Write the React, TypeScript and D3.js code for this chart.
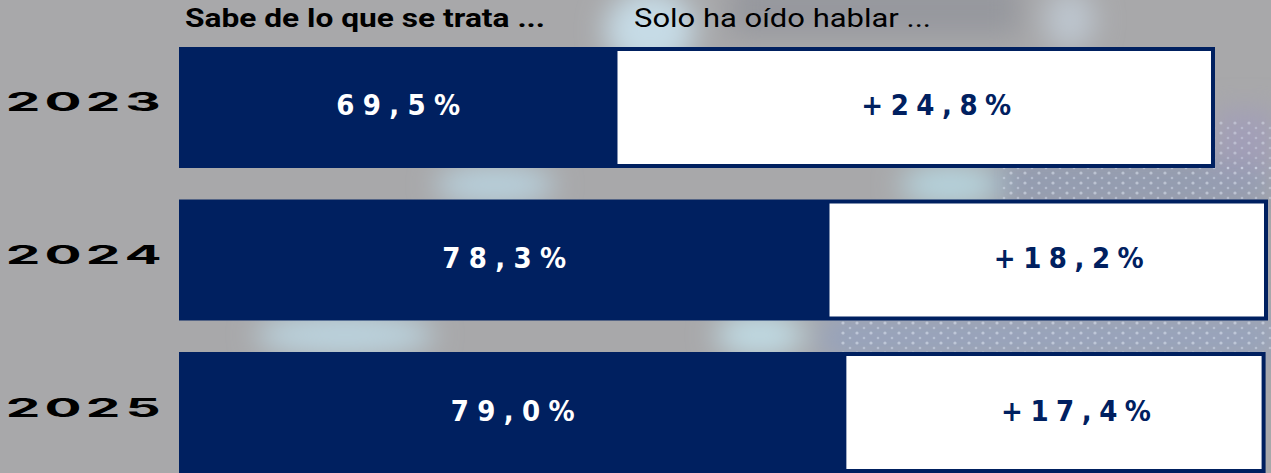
import React from "react";
import * as d3 from "d3";

const years = ["2023", "2024", "2025"];
const knows = [69.5, 78.3, 79.0];
const heard = [24.8, 18.2, 17.4];
const knowsLabels = ["69,5%", "78,3%", "79,0%"];
const heardLabels = ["+24,8%", "+18,2%", "+17,4%"];
const headers = ["Sabe de lo que se trata ...", "Solo ha oído hablar ..."];

const W = 1271;
const H = 473;
const NAVY = "#002060";
const AXIS_MIN = 51.3;
const AXIS_MAX = 96.5;

export default function App() {
  const x = d3.scaleLinear().domain([AXIS_MIN, AXIS_MAX]).range([179, 1268]);
  const y = d3.scaleBand<string>().domain(years).range([47, 473]).paddingInner(0.2066);
  const bw = y.bandwidth();
  const border = 4;
  const valueFont = "'DejaVu Sans Condensed', 'DejaVu Sans', sans-serif";
  const yearScale = 2.2;

  return (
    <svg
      width={W}
      height={H}
      style={{ position: "absolute", left: 0, top: 0, display: "block" }}
    >
      <defs>
        <filter id="blur" x="-50%" y="-50%" width="200%" height="200%">
          <feGaussianBlur stdDeviation="14" />
        </filter>
        <filter id="blur2" x="-50%" y="-50%" width="200%" height="200%">
          <feGaussianBlur stdDeviation="6" />
        </filter>
        <pattern id="dots" width="14" height="10" patternUnits="userSpaceOnUse">
          <circle cx="3" cy="3" r="1.6" fill="#e6ecf7" opacity="0.8" />
          <circle cx="10" cy="8" r="1.3" fill="#dfe7f5" opacity="0.7" />
        </pattern>
      </defs>
      {/* background photo approximation */}
      <rect x={0} y={0} width={W} height={H} fill="#a8a8aa" />
      <g filter="url(#blur)">
        <rect x={730} y={-20} width={290} height={55} fill="#96989e" />
        <ellipse cx={650} cy={30} rx={45} ry={40} fill="#c6dbe6" />
        <ellipse cx={1070} cy={20} rx={25} ry={30} fill="#bdc6cf" />
        <ellipse cx={495} cy={185} rx={60} ry={20} fill="#b8d0dc" />
        <ellipse cx={950} cy={185} rx={50} ry={20} fill="#b6d4de" />
        <rect x={1000} y={160} width={271} height={45} fill="#8f98ad" />
        <rect x={1215} y={110} width={60} height={60} fill="#a29fb8" />
        <ellipse cx={345} cy={335} rx={90} ry={22} fill="#bbd3de" />
        <ellipse cx={760} cy={335} rx={45} ry={22} fill="#c0dae3" />
        <rect x={820} y={315} width={460} height={45} fill="#97a3bb" />
      </g>
      <rect x={1000} y={165} width={271} height={35} fill="url(#dots)" opacity="0.55" filter="url(#blur2)" />
      <rect x={1000} y={165} width={271} height={35} fill="url(#dots)" opacity="0.6" />
      <rect x={1215} y={120} width={56} height={50} fill="url(#dots)" opacity="0.5" />
      <rect x={840} y={320} width={431} height={32} fill="url(#dots)" opacity="0.6" />

      {/* headers */}
      <text
        x={185}
        y={27}
        fontFamily="Roboto, 'Liberation Sans', sans-serif"
        fontWeight={700}
        fontSize={25}
        fill="#000"
        textLength={360}
        lengthAdjust="spacingAndGlyphs"
      >
        {headers[0]}
      </text>
      <text
        x={634}
        y={27}
        fontFamily="Roboto, 'Liberation Sans', sans-serif"
        fontWeight={400}
        fontSize={25}
        fill="#000"
        textLength={297}
        lengthAdjust="spacingAndGlyphs"
      >
        {headers[1]}
      </text>

      {years.map((yr, i) => {
        const top = y(yr) as number;
        const x0 = x(AXIS_MIN);
        const x1 = x(knows[i]);
        const x2 = x(knows[i] + heard[i]);
        const cy = top + bw / 2;
        return (
          <g key={yr}>
            {yr.split("").map((ch, k) => (
              <text
                key={k}
                transform={`translate(${8 + 15 + k * 40}, ${cy + 4}) scale(${yearScale}, 1)`}
                textAnchor="middle"
                fontFamily="Inter, 'DejaVu Sans', sans-serif"
                fontWeight={700}
                fontSize={25}
                fill="#000"
              >
                {ch}
              </text>
            ))}
            <rect x={x0} y={top} width={x2 - x0} height={bw} fill={NAVY} />
            <rect
              x={x1}
              y={top + border}
              width={x2 - x1 - border}
              height={bw - 2 * border}
              fill="#ffffff"
            />
            <text
              x={(x0 + x1) / 2}
              y={cy + 8}
              textAnchor="middle"
              fontFamily={valueFont}
              fontWeight={700}
              fontSize={29}
              fill="#ffffff"
              textLength={124}
            >
              {knowsLabels[i]}
            </text>
            <text
              x={(x1 + x2) / 2 + 20}
              y={cy + 8}
              textAnchor="middle"
              fontFamily={valueFont}
              fontWeight={700}
              fontSize={29}
              fill={NAVY}
              textLength={150}
            >
              {heardLabels[i]}
            </text>
          </g>
        );
      })}
    </svg>
  );
}
